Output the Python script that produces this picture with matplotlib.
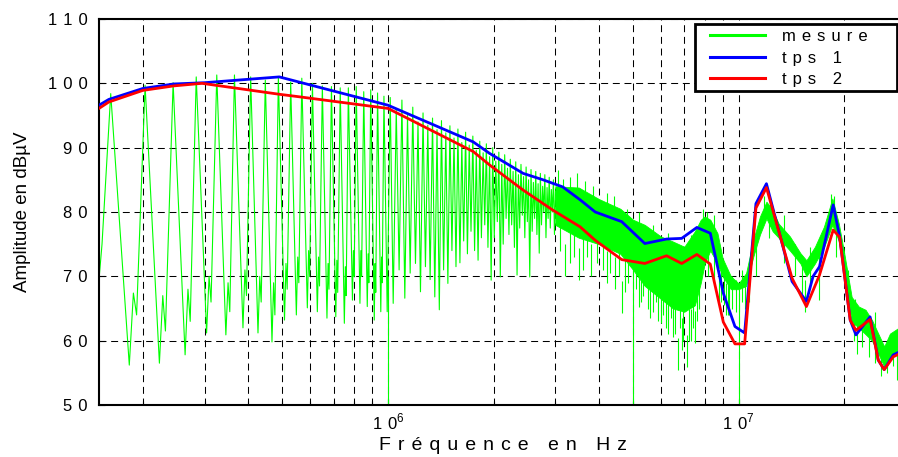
import matplotlib
matplotlib.use("Agg")
import matplotlib.pyplot as plt
from matplotlib.lines import Line2D
from matplotlib.patches import Rectangle
from matplotlib.ticker import FixedLocator, FixedFormatter, NullFormatter

plt.rcParams['font.family'] = ['Liberation Sans', 'DejaVu Sans']
plt.rcParams['mathtext.fontset'] = 'custom'
plt.rcParams['mathtext.rm'] = 'Liberation Sans'
plt.rcParams['lines.scale_dashes'] = False

# ---------------- data ----------------
# computed emission levels, case 1 (MHz, dBuV)
tps1_mhz = [0.15, 0.16, 0.20, 0.245, 0.30, 0.49, 1.0, 1.75, 1.95, 2.43, 2.77, 3.15,
            3.53, 3.9, 4.64, 5.4, 6.23, 6.88, 7.6, 8.3, 9.04, 9.76, 10.4, 11.2, 12.0,
            14.2, 15.6, 16.3, 17.0, 18.6, 19.4, 20.8, 21.6, 23.7, 25.0, 26.0, 27.6, 28.6]
tps1_db = [96.6, 97.5, 99.2, 99.9, 100.1, 101.0, 96.6, 90.9, 89.1, 86.0, 85.0, 83.9,
           81.9, 80.0, 78.5, 75.1, 75.8, 75.9, 77.6, 76.7, 67.4, 62.2, 61.2, 81.3, 84.4,
           69.2, 66.1, 70.0, 71.5, 81.1, 76.2, 63.2, 60.9, 63.7, 57.0, 55.5, 57.8, 58.2]

# computed emission levels, case 2 (MHz, dBuV)
tps2_mhz = [0.15, 0.16, 0.20, 0.245, 0.295, 0.49, 0.56, 1.0, 1.75, 1.95, 2.43, 2.95,
            3.53, 3.9, 4.64, 5.4, 6.23, 6.88, 7.6, 8.3, 9.04, 9.76, 10.4, 11.2, 12.0,
            14.2, 15.6, 17.0, 18.6, 19.4, 20.8, 21.6, 23.7, 25.0, 26.0, 27.6, 28.6]
tps2_db = [96.1, 97.1, 98.9, 99.6, 100.0, 98.3, 97.9, 96.1, 89.4, 87.3, 83.4, 80.3,
           77.7, 75.6, 72.6, 72.0, 73.2, 72.0, 73.4, 71.9, 62.9, 59.5, 59.5, 80.6, 83.8,
           69.7, 65.3, 70.2, 77.2, 76.1, 63.2, 61.6, 63.3, 57.0, 55.5, 57.5, 57.9]

# measured spectrum, start of the sweep (kHz, dBuV)
start_khz = [150, 153]
start_db = [69.5, 75.0]

# measured spectrum: harmonic peaks (kHz, dBuV)
peak_khz = [162, 203, 244, 284, 325, 365, 406, 447, 487, 528, 568, 609, 650, 690,
            731, 771, 812, 853, 893, 934, 974,
            1015, 1056, 1096, 1137, 1177, 1218, 1259, 1299, 1340, 1380,
            1421, 1462, 1502, 1543, 1583, 1624, 1665, 1705, 1746, 1786,
            1827, 1868, 1908, 1949, 1989, 2030, 2071, 2111, 2152, 2192,
            2233, 2274, 2314, 2355, 2395, 2436, 2477, 2517, 2558, 2598,
            2639, 2680, 2720, 2761, 2801, 2842, 2883, 2923, 2964, 3004]
peak_db = [98.4, 99.7, 100.1, 101.0, 101.3, 101.3, 101.0, 100.5, 101.0, 100.2, 100.8,
           100.0, 99.6, 99.5, 99.3, 99.3, 99.5, 98.7, 99.0, 98.5, 98.0,
           97.8, 96.0, 97.4, 95.0, 96.3, 94.0, 95.4, 93.5, 94.6, 92.8,
           94.2, 92.3, 93.4, 91.5, 92.9, 90.8, 92.4, 90.4, 91.8, 89.6,
           91.0, 89.2, 90.6, 88.6, 90.0, 87.9, 89.3, 87.4, 88.9, 86.8,
           88.2, 86.3, 87.8, 85.8, 87.4, 85.5, 87.0, 85.0, 86.6, 84.6,
           86.3, 84.4, 86.0, 84.0, 85.8, 83.8, 85.4, 83.5, 85.0, 83.2]

# measured spectrum: troughs between the harmonics (kHz, dBuV)
trough_khz = [183, 223, 264, 304, 345, 386, 426, 467, 507, 548, 589, 629, 670, 710,
              751, 792, 832, 873, 914, 954,
              995, 1035, 1076, 1117, 1157, 1198, 1238, 1279, 1319, 1360,
              1401, 1441, 1482, 1522, 1563, 1604, 1644, 1685, 1725, 1766,
              1807, 1847, 1888, 1928, 1969, 2010, 2050, 2091, 2131, 2172,
              2213, 2253, 2294, 2334, 2375, 2416, 2456, 2497, 2537, 2578,
              2619, 2659, 2700, 2740, 2781, 2822, 2862, 2903, 2943, 2984]
trough_db = [56.2, 56.5, 57.8, 61.2, 60.9, 62.0, 61.2, 59.8, 63.2, 64.0, 65.1, 64.5,
             63.5, 63.7, 62.7, 66.3, 65.8, 65.3, 63.2, 64.5,
             64.5, 65.8, 71.0, 66.6, 70.5, 72.0, 67.6, 71.5, 69.5, 66.8,
             64.8, 71.0, 68.9, 74.0, 71.5, 72.1, 75.5, 73.5, 77.0, 74.0,
             72.5, 76.0, 78.0, 74.5, 69.4, 76.0, 78.5, 69.9, 75.0, 79.0,
             76.5, 78.0, 74.5, 70.2, 77.5, 79.5, 76.0, 78.5, 69.9, 77.0,
             79.0, 76.5, 73.6, 78.0, 80.0, 76.0, 79.0, 77.5, 80.0, 76.5]

# small rebound and second notch just after each trough below 1 MHz (kHz, dBuV)
bump_khz = [188, 228, 269, 309, 350, 391, 431, 472, 512, 553, 594, 634, 675, 715,
            756, 797, 837, 878, 919, 959]
bump_db = [67.4, 67.0, 68.0, 70.0, 69.0, 71.0, 70.0, 69.0, 72.0, 73.0, 74.0, 73.0,
           72.0, 72.5, 71.5, 74.0, 74.0, 73.5, 72.0, 73.0]
notch_khz = [192, 232, 273, 313, 354, 395, 435, 476, 516, 557, 598, 638, 679, 719,
             760, 801, 841, 882, 923, 963]
notch_db = [64.0, 61.5, 63.0, 66.0, 64.5, 67.0, 66.0, 64.0, 68.0, 69.0, 70.0, 68.5,
            68.0, 67.5, 67.0, 70.0, 70.0, 69.0, 67.5, 69.0]

# measured spectrum above 3 MHz, where the harmonics merge into a dense band (MHz, dBuV)
band_mhz = [3.0, 3.5, 4.0, 4.6, 5.0, 5.4, 6.0, 6.5, 7.0, 7.5, 7.8, 8.0, 8.3, 8.7, 9.0,
            9.5, 10.0, 10.5, 11.0, 11.5, 12.0, 12.5, 13.0, 14.0, 15.0, 15.6, 16.5,
            17.5, 18.5, 19.3, 20.0, 21.0, 22.0, 23.0, 24.0, 25.0, 26.0, 27.0, 28.6]
band_top = [84.0, 83.8, 82.0, 80.5, 78.8, 78.0, 76.2, 75.4, 74.6, 77.0, 78.8, 79.3,
            78.8, 76.7, 72.8, 70.0, 68.9, 70.5, 75.6, 79.3, 81.6, 80.3, 78.2, 76.2,
            73.6, 72.5, 74.6, 77.7, 82.1, 78.2, 73.6, 66.8, 65.3, 64.8, 63.2, 61.1,
            59.1, 61.1, 62.0]
band_low = [78.0, 76.0, 75.0, 73.5, 71.0, 68.5, 66.5, 65.0, 64.5, 65.5, 69.0, 72.0,
            74.0, 72.0, 70.0, 68.0, 68.0, 68.5, 73.0, 76.5, 79.0, 77.0, 76.0, 74.0,
            72.0, 70.0, 72.0, 74.5, 78.0, 75.5, 70.5, 63.0, 62.0, 61.0, 60.0, 58.0,
            56.0, 57.5, 58.5]

# single upward excursions of the measured trace out of the band (MHz, dBuV)
spike_hi_mhz = [3.05, 3.15, 3.3, 3.45, 3.65, 3.85, 4.2, 4.4, 4.8, 5.2, 5.7, 6.3,
                7.3, 7.9, 8.1, 8.5, 11.8, 12.3, 13.5, 16.0, 18.3, 18.7, 21.5, 24.5]
spike_hi_db = [86.5, 85.2, 85.5, 86.0, 84.8, 84.0, 83.0, 82.5, 80.5, 80.0, 78.0, 76.8,
               76.5, 80.5, 80.0, 79.5, 82.5, 81.8, 79.5, 74.5, 82.8, 82.5, 66.5, 64.5]

# single downward excursions below the band (MHz, dBuV)
spike_lo_mhz = [3.1, 3.2, 3.3, 3.4, 3.5, 3.6, 3.7, 3.8, 3.95, 4.1, 4.2, 4.3, 4.45,
                4.55, 4.64, 4.75, 4.85, 5.1, 5.2, 5.25, 5.35, 5.5, 5.6, 5.7, 5.8,
                5.9, 6.0, 6.1, 6.2, 6.3, 6.4, 6.5, 6.6, 6.72, 6.8, 6.9, 6.95, 7.1,
                7.2, 7.3, 7.4, 7.5, 7.6, 7.7, 8.15, 8.5, 8.8, 8.9, 9.1, 9.2, 9.3,
                9.4, 9.6, 9.8, 10.2, 10.4, 10.7, 11.2, 12.2, 13.5, 14.5, 15.2,
                15.5, 16.0, 16.9, 17.0, 19.0, 20.5, 21.3, 21.8, 22.5, 23.5, 24.5,
                25.5, 26.5, 27.5, 28.3]
spike_lo_db = [74.0, 70.0, 72.0, 73.0, 69.4, 71.0, 73.0, 70.0, 72.0, 71.0, 69.0,
               70.5, 68.0, 70.0, 64.3, 67.5, 69.0, 68.0, 65.3, 66.0, 67.0, 65.0,
               63.5, 64.5, 66.0, 63.0, 62.7, 64.0, 62.0, 61.0, 63.5, 60.5, 61.0, 55.4,
               62.0, 58.5, 60.0, 55.9, 60.0, 60.0, 62.0, 59.6, 63.0, 65.0, 70.0, 69.0,
               66.0, 66.0, 65.5, 64.0, 64.0, 64.0, 65.0, 64.5, 66.0, 65.0, 66.0,
               70.0, 76.0, 72.0, 70.0, 67.0, 64.5, 68.0, 66.3, 70.0, 73.0, 66.0, 60.0,
               58.0, 59.0, 57.5, 56.5, 54.5, 55.0, 56.0, 53.9]

# the three drop-outs that reach the bottom of the scale (MHz, dBuV)
dropout_mhz = [1.0, 5.0, 10.0]
dropout_top = [70.0, 72.0, 68.0]
dropout_bot = [49.0, 49.0, 49.0]

y_ticks = [50, 60, 70, 80, 90, 100, 110]
x_major = [1e6, 1e7]
x_major_labels = ['1 0$^{\\mathrm{6}}$', '1 0$^{\\mathrm{7}}$']
x_minor = [2e5, 3e5, 4e5, 5e5, 6e5, 7e5, 8e5, 9e5,
           2e6, 3e6, 4e6, 5e6, 6e6, 7e6, 8e6, 9e6, 2e7, 3e7]

legend_labels = ['mesure', 'tps 1', 'tps 2']

GAP = ' \u200a'


def spaced(text):
    """Letter-spaced text, as in the original plotting tool."""
    return GAP.join(list(text))


# ---------------- figure ----------------
W, H = 898, 457
fig = plt.figure(figsize=(W / 100, H / 100), dpi=100)
ax = fig.add_axes([99 / W, (H - 405) / H, (906 - 99) / W, (405 - 19) / H])

GREEN, BLUE, RED = '#00ff00', '#0000ff', '#ff0000'

# measured trace: all vertices of the resolved part, in frequency order
pts = list(zip(start_khz, start_db)) + list(zip(peak_khz, peak_db)) + \
    list(zip(trough_khz, trough_db)) + list(zip(bump_khz, bump_db)) + \
    list(zip(notch_khz, notch_db))
pts.sort()
ax.plot([p[0] * 1e3 for p in pts], [p[1] for p in pts], color=GREEN, lw=0.8, zorder=2)

# dense part of the measured trace
bx = [f * 1e6 for f in band_mhz]
ax.fill_between(bx, band_low, band_top, color=GREEN, lw=0.6, zorder=2)
ax.vlines([f * 1e6 for f in spike_hi_mhz], [v - 4 for v in spike_hi_db], spike_hi_db,
          color=GREEN, lw=0.8, zorder=2)
ax.vlines([f * 1e6 for f in spike_lo_mhz], spike_lo_db,
          [min(v + 5, 80) for v in spike_lo_db], color=GREEN, lw=0.8, zorder=2)
ax.vlines([f * 1e6 for f in dropout_mhz], dropout_bot, dropout_top,
          color=GREEN, lw=0.8, zorder=2)

ax.plot([f * 1e6 for f in tps1_mhz], tps1_db, color=BLUE, lw=2.0, zorder=3)
ax.plot([f * 1e6 for f in tps2_mhz], tps2_db, color=RED, lw=2.0, zorder=4)

ax.set_xscale('log')
ax.set_xlim(1.5e5, 3e7)
ax.set_ylim(50, 110)

ax.xaxis.set_major_locator(FixedLocator(x_major))
ax.xaxis.set_minor_locator(FixedLocator(x_minor))
ax.xaxis.set_major_formatter(FixedFormatter([l.replace(' ', GAP) for l in x_major_labels]))
ax.xaxis.set_minor_formatter(NullFormatter())
ax.yaxis.set_major_locator(FixedLocator(y_ticks))
ax.yaxis.set_major_formatter(FixedFormatter([spaced(str(v)) for v in y_ticks]))

ax.tick_params(axis='both', which='both', direction='in', top=False, right=False)
ax.tick_params(axis='both', which='major', length=4, width=0.8, labelsize=12)
ax.tick_params(axis='y', which='major', pad=8)
ax.tick_params(axis='x', which='minor', length=3, width=0.8)
ax.tick_params(axis='x', which='major', pad=5)

grid_kw = dict(color='black', lw=0.75, linestyle=(0, (5.0, 3.4)))
ax.grid(True, which='major', axis='both', **grid_kw)
ax.grid(True, which='minor', axis='x', **grid_kw)
ax.set_axisbelow(True)

for s in ax.spines.values():
    s.set_linewidth(1.5)
    s.set_color('black')

ax.set_xlabel(spaced('Fréquence en Hz'), fontsize=14, labelpad=3)
ax.set_ylabel('Amplitude en dBµV', fontsize=13.5, labelpad=12)

# legend box
frame = Rectangle((695 / W, 1 - 91 / H), (897 - 695) / W, (91 - 24) / H,
                  transform=fig.transFigure, facecolor='white', edgecolor='black',
                  lw=2.0, zorder=5)
fig.patches.append(frame)
handles = [Line2D([], [], color=c, lw=2.2) for c in (GREEN, BLUE, RED)]
leg = fig.legend(handles, [spaced(t) for t in legend_labels], loc='upper left',
                 bbox_to_anchor=(710 / W, 1 - 29 / H), fontsize=12, frameon=False,
                 borderpad=0, borderaxespad=0, handlelength=3.3, handletextpad=1.0,
                 labelspacing=0.40)
leg.set_zorder(6)

fig.savefig('out.png', dpi=100)
